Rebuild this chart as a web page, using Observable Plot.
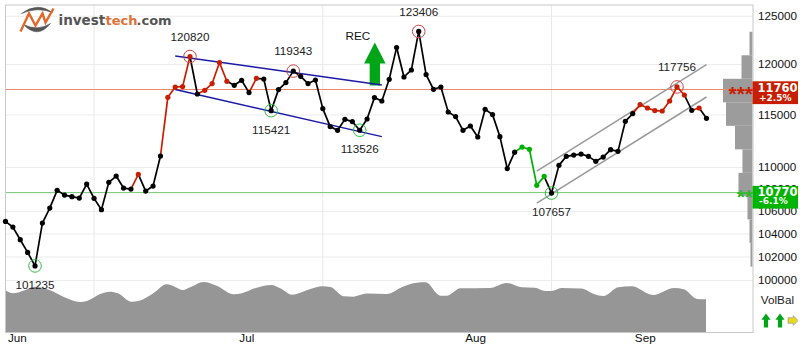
<!DOCTYPE html>
<html><head><meta charset="utf-8">
<script src="https://cdn.jsdelivr.net/npm/d3@7"></script>
<script src="https://cdn.jsdelivr.net/npm/@observablehq/plot@0.6"></script>
<style>html,body{margin:0;padding:0;background:#fff;overflow:hidden}</style>
</head><body><div id="chart"></div>
<script>
const closes = [105114,104608,103500,102395,101235,104963,106302,107905,107477,107331,107205,108481,107178,106158,108637,109217,108114,108023,109374,107841,108297,111079,116730,117751,117791,120820,117056,117423,118090,120205,118320,117921,118419,117194,118620,118550,115421,117492,118190,119343,118820,118090,118450,115620,113874,113519,114578,114356,113526,114610,116700,116365,118520,121738,118750,119455,123406,118993,117522,117751,115288,114842,113519,113932,112878,115552,115036,112915,109911,111446,111927,111710,108361,109189,107657,110209,111051,111173,111267,111051,110583,110985,111682,111522,114385,115132,116012,115679,115424,115385,116365,117756,116957,115454,115679,114676];
const redDays = [18,22,23,24,25,27,28,29,30,34,86,87,88,89,90,91,92,94];
const greenDays = [70,71,72,73];
const peakDays = [25,39,56,91];
const peakValues = [120820,119343,123406,117756];
const troughDays = [4,36,48,74];
const troughValues = [101235,115421,113526,107657];
const volDays = [0,1.1,2.5,4,6.05,7.9,10.2,11.2,12.9,14.2,15.3,17.1,18.2,20.1,21.9,23,24.1,25.1,26.9,28.7,31,32.1,34.1,36.1,37.3,38.9,41.3,43,44.1,45.9,47.2,49,51.7,53.9,55.8,57,59,59.9,61.7,65.7,68,70,71.8,73.2,74.1,75.4,78.1,79.8,81.1,83.1,84.9,87.8,90.7,92,93.8,95];
const volBal = [80.8,74.4,79.4,87.1,80.8,67.9,57.7,60.2,73.1,77.5,74.4,58.3,60.2,74.4,91.7,87.1,80.8,86,96.2,89,72.5,74.4,85.2,90.4,84,71.7,82.1,87.9,86.5,68.7,67.9,73.7,73.1,87.1,94.8,95.6,69.8,69.8,84,84.6,94.2,86,85.2,78.8,78.8,84.6,83.3,73.1,69.2,86,87.9,71.2,84.6,82.1,63.5,62.9];
const histEdges = [123322,120896,118520,116188,113904,111662,109467,107359,105247,103177,101130];
const histLengths = [0.41,1.49,4,3.59,2.37,1.36,1.9,0.68,0.41,0.27];
const blueLines = [[23,120878,51,117951],[23,117492,51,112915]];
const greyLines = [[72,109679,95,120001],[72,106752,95,116760]];
const resistance = 117500, support = 107700;
const yTicks = [125000,120000,115000,110000,108000,106000,104000,102000,100000];
const yGrid = [125000,120000,115000,110000,106000,104000,102000,100000];
const monthGrid = [12,43,74];
const monthPos = [1.6,32.7,63.7,86.7];
const monthNames = ["Jun","Jul","Aug","Sep"];
const recDay = 50.05, recPrice = 118400;

const xEnd = 101.3, labelEnd = 107.6;
const volLow = 95696, volHigh = 100000;
const RED = "#c81e00", GREEN = "#00b000", FONT = "'Liberation Sans',Arial,sans-serif", BOLD = "'DejaVu Sans',sans-serif";
const sig = i => redDays.includes(i) ? RED : greenDays.includes(i) ? GREEN : "#000";
const rows = closes.map((v,i)=>({i,v,c:sig(i),p:i?closes[i-1]:v}));
const volRows = volDays.map((d,k)=>({d,p:volLow*Math.pow(volHigh/volLow,volBal[k]/100)}));
const histRows = histLengths.map((w,k)=>({y1:histEdges[k],y2:histEdges[k+1],x1:xEnd-w}));
const trend = a => a.map(([a0,b0,a1,b1])=>({a0,b0,a1,b1}));

const arrowUp = (hw,sw,mid)=>({draw(c,s){const r=Math.sqrt(s/Math.PI);c.moveTo(0,-r);c.lineTo(hw*r,mid*r);c.lineTo(sw*r,mid*r);c.lineTo(sw*r,r);c.lineTo(-sw*r,r);c.lineTo(-sw*r,mid*r);c.lineTo(-hw*r,mid*r);c.closePath();}});
const arrowRight = {draw(c,s){const r=Math.sqrt(s/Math.PI);c.moveTo(r,0);c.lineTo(0.05*r,-r);c.lineTo(0.05*r,-0.55*r);c.lineTo(-r,-0.55*r);c.lineTo(-r,0.55*r);c.lineTo(0.05*r,0.55*r);c.lineTo(0.05*r,r);c.closePath();}};
const logoEye = {draw(c){c.moveTo(-16,-7);c.quadraticCurveTo(0,-19,15,-8);c.quadraticCurveTo(0,-14,-16,-7);c.closePath();c.moveTo(-14,4);c.quadraticCurveTo(0,19,13,3);c.quadraticCurveTo(0,11,-14,4);c.closePath();}};
const logoZig = {draw(c){c.moveTo(-17,11);c.lineTo(-8.5,-7);c.lineTo(-2,5);c.lineTo(5,-7);c.lineTo(8,2);c.lineTo(16,-12);}};

const corner = (text,o) => Plot.text([text],{frameAnchor:"top-left",textAnchor:"start",lineAnchor:"middle",...o});

const chart = Plot.plot({
  width:798,height:352,marginLeft:5,marginRight:45.5,marginTop:4.5,marginBottom:20,
  style:{overflow:"hidden",fontFamily:FONT,background:"#fff"},
  x:{domain:[0,xEnd],axis:null},
  y:{type:"log",domain:[volLow,126196],axis:null},
  marks:[
    Plot.ruleY(yGrid,{stroke:"#ececec",strokeWidth:1}),
    Plot.ruleX(monthGrid,{stroke:"#e8e8e8",strokeWidth:1}),
    Plot.areaY(volRows,{x:"d",y1:volLow,y2:"p",fill:"#969696",curve:"monotone-x"}),
    Plot.rect(histRows,{x1:"x1",x2:xEnd,y1:"y1",y2:"y2",fill:"#9c9c9c"}),
    Plot.ruleY([resistance],{stroke:"#ea8a6c",strokeWidth:1}),
    Plot.ruleY([support],{stroke:"#72c672",strokeWidth:1}),
    Plot.frame({stroke:"#c8c8c8",strokeWidth:1}),
    Plot.axisY(yTicks,{anchor:"right",tickSize:0,tickPadding:5,tickFormat:d=>String(d),fontSize:11.7,fill:"#111",label:null}),
    Plot.axisX(monthPos,{anchor:"bottom",tickSize:0,tickPadding:1,tickFormat:(d,i)=>monthNames[i],fontSize:11.7,fill:"#111",label:null}),
    Plot.dot([0],{x:()=>recDay,y:()=>recPrice,r:21.5,symbol:arrowUp(0.5,0.24,-0.02),fill:"#00a518",stroke:"none",dy:-16.5}),
    Plot.text(["REC"],{x:()=>recDay,y:()=>recPrice,dx:-17,dy:-44.5,fontSize:11.7,fill:"#111"}),
    Plot.link(trend(blueLines),{x1:"a0",y1:"b0",x2:"a1",y2:"b1",stroke:"#1a1aa8",strokeWidth:1.5}),
    Plot.link(trend(greyLines),{x1:"a0",y1:"b0",x2:"a1",y2:"b1",stroke:"#9a9a9a",strokeWidth:1.5}),
    Plot.link(rows.slice(1),{x1:d=>d.i-1,y1:"p",x2:"i",y2:"v",stroke:d=>d.c,strokeWidth:1.7}),
    Plot.dot(rows,{x:"i",y:"v",r:2.6,fill:d=>d.c,stroke:"none"}),
    Plot.dot(peakDays,{x:d=>d,y:(d,k)=>peakValues[k],r:6.3,stroke:"#cc4444",strokeWidth:1,fill:"none"}),
    Plot.dot(troughDays,{x:d=>d,y:(d,k)=>troughValues[k],r:6.3,stroke:"#2fbf45",strokeWidth:1,fill:"none"}),
    Plot.text(peakValues,{x:(d,k)=>peakDays[k],y:d=>d,text:d=>String(d),dy:-19.5,fontSize:11.7,fill:"#222"}),
    Plot.text(troughValues,{x:(d,k)=>troughDays[k],y:d=>d,text:d=>String(d),dy:19.5,fontSize:11.7,fill:"#222"}),
    Plot.rect([0],{x1:()=>xEnd,x2:()=>labelEnd,y1:()=>118267,y2:()=>116012,fill:RED}),
    Plot.rect([0],{x1:()=>xEnd,x2:()=>labelEnd,y1:()=>108269,y2:()=>106212,fill:"#00b400"}),
    Plot.text(["11760"],{x:()=>xEnd,y:()=>resistance,dx:4.5,dy:-1.5,textAnchor:"start",fill:"#fff",fontFamily:BOLD,fontWeight:"bold",fontSize:11.5}),
    Plot.text(["+2.5%"],{x:()=>xEnd,y:()=>resistance,dx:6,dy:9,textAnchor:"start",fill:"#fff",fontFamily:BOLD,fontWeight:"bold",fontSize:9}),
    Plot.text(["10770"],{x:()=>xEnd,y:()=>support,dx:4.5,dy:-0.5,textAnchor:"start",fill:"#fff",fontFamily:BOLD,fontWeight:"bold",fontSize:11.5}),
    Plot.text(["-6.1%"],{x:()=>xEnd,y:()=>support,dx:6,dy:8.5,textAnchor:"start",fill:"#fff",fontFamily:BOLD,fontWeight:"bold",fontSize:9}),
    Plot.text(["***"],{x:()=>xEnd,y:()=>resistance,dy:4.5,textAnchor:"end",fill:RED,fontWeight:"bold",fontSize:21}),
    Plot.text(["**"],{x:()=>xEnd,y:()=>support,dy:4.5,textAnchor:"end",fill:"#2cb82c",fontWeight:"bold",fontSize:21}),
    Plot.text(["VolBal"],{frameAnchor:"bottom-right",dx:41,dy:-29,textAnchor:"end",fontSize:11.7,fill:"#222"}),
    Plot.dot([0],{frameAnchor:"bottom-right",dx:13,dy:-12,r:7,symbol:arrowUp(0.66,0.3,-0.1),fill:"#00a518",stroke:"none"}),
    Plot.dot([0],{frameAnchor:"bottom-right",dx:27,dy:-12,r:7,symbol:arrowUp(0.66,0.3,-0.1),fill:"#00a518",stroke:"none"}),
    Plot.dot([0],{frameAnchor:"bottom-right",dx:40,dy:-12,r:5,symbol:arrowRight,fill:"#e8d820",stroke:"#999",strokeWidth:0.7}),
    Plot.dot([0],{frameAnchor:"top-left",dx:32,dy:15.5,r:1,symbol:logoEye,fill:"#555",stroke:"#555",strokeWidth:0.6}),
    Plot.dot([0],{frameAnchor:"top-left",dx:32,dy:15.5,r:1,symbol:logoZig,fill:"none",stroke:"#e0682a",strokeWidth:2.4}),
    corner("invest",{dx:53,dy:15.5,fill:"#555",fontFamily:BOLD,fontWeight:"bold",fontSize:13.5}),
    corner("tech",{dx:100,dy:15.5,fill:"#e0703a",fontFamily:BOLD,fontWeight:"bold",fontSize:13}),
    corner(".com",{dx:131,dy:15.5,fill:"#555",fontFamily:BOLD,fontWeight:"bold",fontSize:13})
  ]
});
document.getElementById("chart").appendChild(chart);
</script></body></html>
